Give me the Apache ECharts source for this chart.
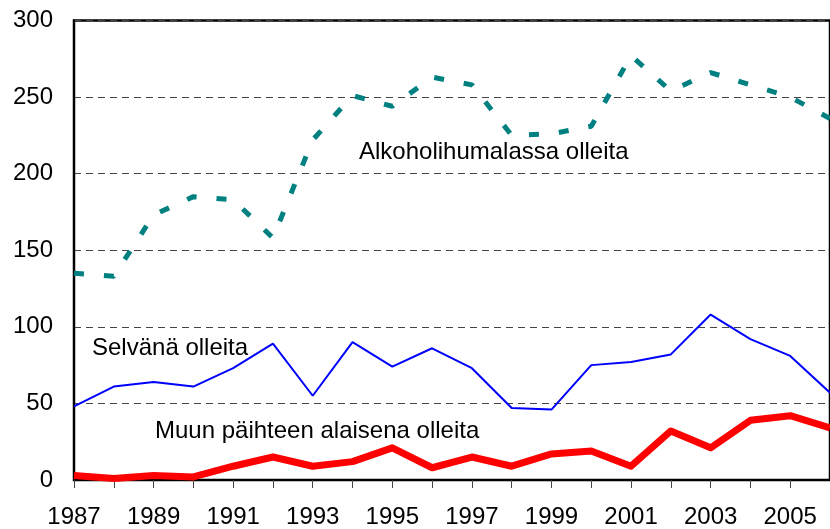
<!DOCTYPE html>
<html>
<head>
<meta charset="utf-8">
<script src="https://cdn.jsdelivr.net/npm/echarts@6/dist/echarts.min.js"></script>
<style>
html,body{margin:0;padding:0;background:#fff;}
#chart{width:830px;height:529px;}
</style>
</head>
<body>
<div id="chart"></div>
<script>
var years = ['1987','1988','1989','1990','1991','1992','1993','1994','1995','1996','1997','1998','1999','2000','2001','2002','2003','2004','2005','2006'];
var alkoholi = [135,133,173,185,183,158,222,251,244,263,258,225,226,231,277,254,266,258,250,236];
var selvana = [48,61,64,61,73,89,55,90,74,86,73,47,46,75,77,82,108,92,81,57];
var muun = [3,1,3,2,9,15,9,12,21,8,15,9,17,19,9,32,21,39,42,34];
var labels = ['Alkoholihumalassa olleita','Selvänä olleita','Muun päihteen alaisena olleita'];
var yTicks = {min:0, max:300, interval:50};

var FONT = '"Liberation Sans", Arial, sans-serif';
var chart = echarts.init(document.getElementById('chart'));
chart.setOption({
  animation:false,
  backgroundColor:'#fff',
  grid:{left:74, top:20.5, right:-7.5, bottom:48.7, show:true, borderColor:'#000', borderWidth:2.5, backgroundColor:'transparent'},
  xAxis:{
    type:'category', data:years, boundaryGap:false,
    axisLine:{show:true, lineStyle:{color:'#000', width:2}},
    axisTick:{show:true, interval:0, length:8, lineStyle:{color:'#444', width:1}},
    axisLabel:{interval:1, color:'#000', fontSize:24, fontFamily:FONT, margin:25},
    splitLine:{show:false}
  },
  yAxis:{
    type:'value', min:yTicks.min, max:yTicks.max, interval:yTicks.interval,
    axisLine:{show:true, lineStyle:{color:'#000', width:2}},
    axisTick:{show:false},
    axisLabel:{color:'#000', fontSize:24, fontFamily:FONT, margin:21},
    splitLine:{show:true, lineStyle:{color:'#444', width:1, type:[7,5]}}
  },
  series:[
    {name:labels[0], type:'line', data:alkoholi, showSymbol:false, symbol:'none', z:3,
     lineStyle:{color:'#008080', width:5, type:[10,20], cap:'butt'}},
    {name:labels[1], type:'line', data:selvana, showSymbol:false, symbol:'none', z:4,
     lineStyle:{color:'#0000ff', width:2}},
    {name:labels[2], type:'line', data:muun, showSymbol:false, symbol:'none', z:5,
     lineStyle:{color:'#ff0000', width:7, join:'round'}}
  ],
  graphic:[
    {type:'text', x:359, y:152.5, z:10, style:{text:labels[0], font:'24px '+FONT, fill:'#000', verticalAlign:'middle'}},
    {type:'text', x:92, y:348, z:10, style:{text:labels[1], font:'24px '+FONT, fill:'#000', verticalAlign:'middle'}},
    {type:'text', x:155, y:431, z:10, style:{text:labels[2], font:'24px '+FONT, fill:'#000', verticalAlign:'middle'}}
  ]
});
</script>
</body>
</html>
